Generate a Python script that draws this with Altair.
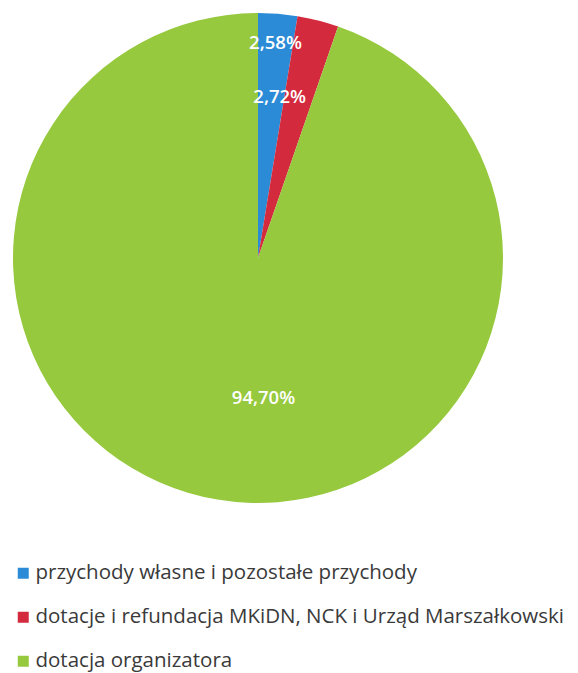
import altair as alt
import pandas as pd

categories = [
    "przychody własne i pozostałe przychody",
    "dotacje i refundacja MKiDN, NCK i Urząd Marszałkowski",
    "dotacja organizatora",
]
values = [2.58, 2.72, 94.70]
labels = ["2,58%", "2,72%", "94,70%"]
order_idx = [0, 1, 2]
colors = ["#2b8bd6", "#d42a3e", "#96c93d"]

df = pd.DataFrame({"cat": categories, "val": values, "label": labels, "idx": order_idx})
base = alt.Chart(df)

pie = base.mark_arc(outerRadius=245).encode(
    theta=alt.Theta("val:Q", stack=True),
    color=alt.Color(
        "cat:N",
        scale=alt.Scale(domain=categories, range=colors),
        sort=categories,
        legend=alt.Legend(
            title=None,
            orient="none",
            legendX=0,
            legendY=550,
            symbolType="square",
            symbolSize=121,
            symbolStrokeWidth=0,
            labelFont="Open Sans",
            labelFontSize=20.5,
            labelColor="#3a3a3a",
            labelOffset=2,
            labelLimit=0,
            rowPadding=23,
            padding=0,
        ),
    ),
    order=alt.Order("idx:Q"),
)


def lab(i, r, dx, dy):
    return (
        base.transform_window(cum="sum(val)", sort=[alt.SortField("idx")], frame=[None, 0])
        .transform_calculate(mid="datum.cum - datum.val / 2")
        .transform_filter(f"datum.idx == {i}")
        .mark_text(radius=r, dx=dx, dy=dy, font="Open Sans", fontSize=18.5,
                   fontWeight=600, color="white", align="center", baseline="middle")
        .encode(
            theta=alt.Theta("mid:Q", scale=alt.Scale(domain=[0, 100]), stack=None),
            text="label:N",
        )
    )


chart = (
    alt.layer(pie, lab(0, 216, 0, 0), lab(1, 162, -18, -4), lab(2, 142, 29, 0))
    .resolve_scale(theta="independent")
    .properties(width=490, height=490)
    .configure_view(stroke=None)
)

chart.save("out.html", embed_options={"renderer": "svg", "actions": False})
